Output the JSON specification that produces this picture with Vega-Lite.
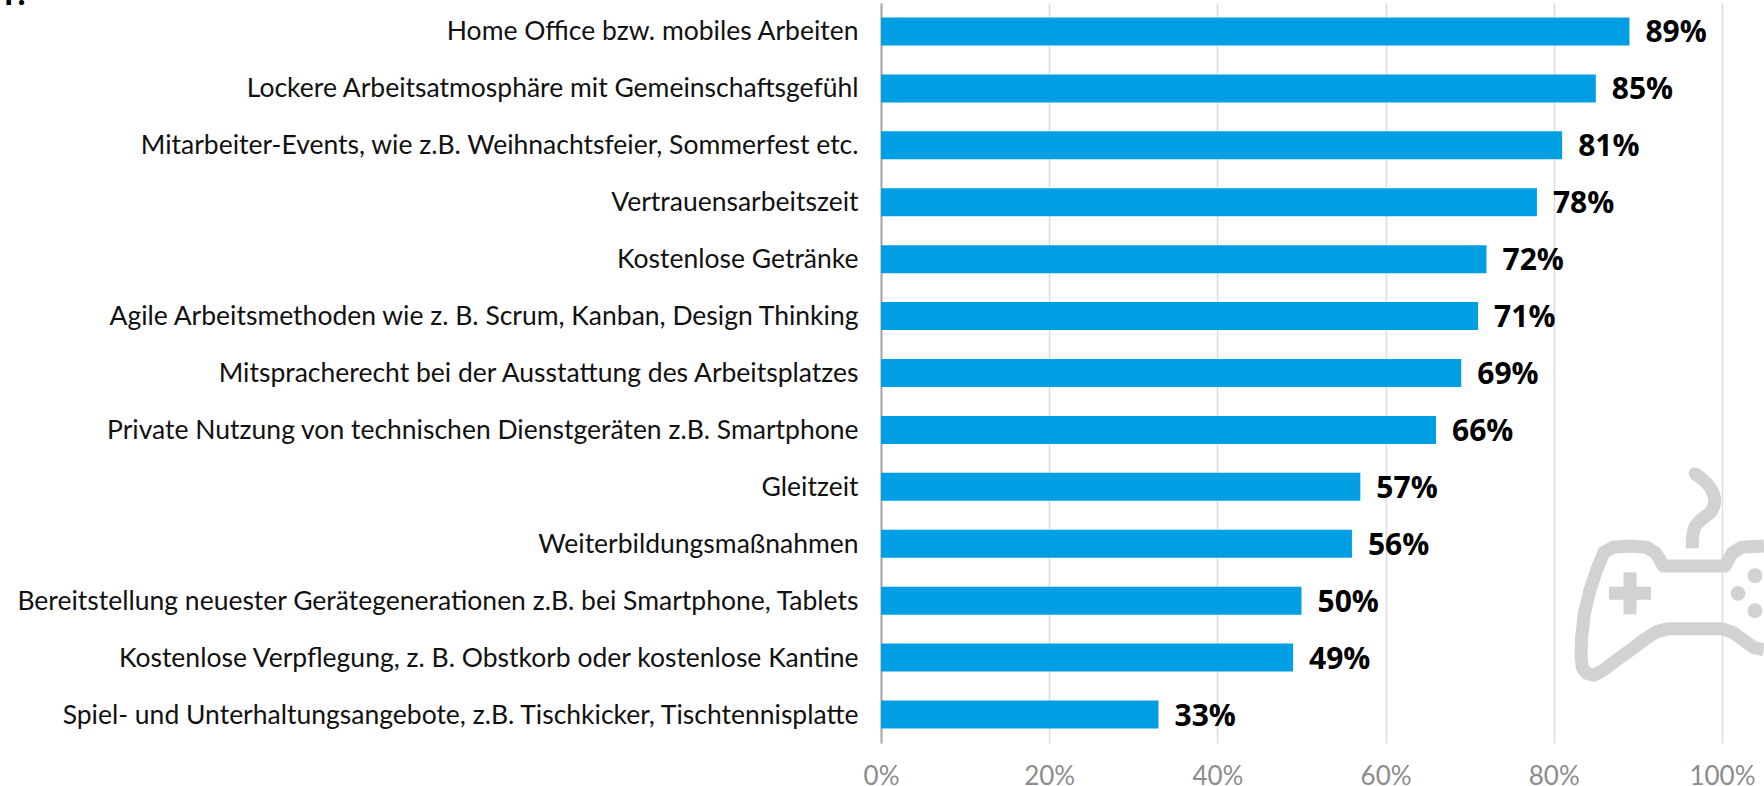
{
"$schema":"https://vega.github.io/schema/vega-lite/v6.json",
"width":883,"height":740,"autosize":"none","padding":{"left":881,"top":3,"right":0,"bottom":43},
"background":"white",
"config":{"view":{"stroke":null}},
"datasets":{
"bars":[
{"k":"Home Office bzw. mobiles Arbeiten","v":89,"l":"89%"},
{"k":"Lockere Arbeitsatmosphäre mit Gemeinschaftsgefühl","v":85,"l":"85%"},
{"k":"Mitarbeiter-Events, wie z.B. Weihnachtsfeier, Sommerfest etc.","v":81,"l":"81%"},
{"k":"Vertrauensarbeitszeit","v":78,"l":"78%"},
{"k":"Kostenlose Getränke","v":72,"l":"72%"},
{"k":"Agile Arbeitsmethoden wie z. B. Scrum, Kanban, Design Thinking","v":71,"l":"71%"},
{"k":"Mitspracherecht bei der Ausstattung des Arbeitsplatzes","v":69,"l":"69%"},
{"k":"Private Nutzung von technischen Dienstgeräten z.B. Smartphone","v":66,"l":"66%"},
{"k":"Gleitzeit","v":57,"l":"57%"},
{"k":"Weiterbildungsmaßnahmen","v":56,"l":"56%"},
{"k":"Bereitstellung neuester Gerätegenerationen z.B. bei Smartphone, Tablets","v":50,"l":"50%"},
{"k":"Kostenlose Verpflegung, z. B. Obstkorb oder kostenlose Kantine","v":49,"l":"49%"},
{"k":"Spiel- und Unterhaltungsangebote, z.B. Tischkicker, Tischtennisplatte","v":33,"l":"33%"}
],
"outline":[
{"p":"body","o":1,"x":1092,"y":630},{"p":"body","o":2,"x":1060,"y":622},{"p":"body","o":3,"x":1030,"y":600},{"p":"body","o":4,"x":1000,"y":578},{"p":"body","o":5,"x":965,"y":566},{"p":"body","o":6,"x":805,"y":566},{"p":"body","o":7,"x":770,"y":575},{"p":"body","o":8,"x":735,"y":597},{"p":"body","o":9,"x":700,"y":624},{"p":"body","o":10,"x":650,"y":660},{"p":"body","o":11,"x":605,"y":694},{"p":"body","o":12,"x":582,"y":706},{"p":"body","o":13,"x":560,"y":700},{"p":"body","o":14,"x":547,"y":682},{"p":"body","o":15,"x":543,"y":650},{"p":"body","o":16,"x":545,"y":590},{"p":"body","o":17,"x":553,"y":520},{"p":"body","o":18,"x":570,"y":450},{"p":"body","o":19,"x":590,"y":390},{"p":"body","o":20,"x":612,"y":337},{"p":"body","o":21,"x":640,"y":322},{"p":"body","o":22,"x":690,"y":318},{"p":"body","o":23,"x":740,"y":322},{"p":"body","o":24,"x":768,"y":340},{"p":"body","o":25,"x":790,"y":378},{"p":"body","o":26,"x":975,"y":378},{"p":"body","o":27,"x":996,"y":340},{"p":"body","o":28,"x":1024,"y":322},{"p":"body","o":29,"x":1092,"y":318}
],
"wire":[
{"o":1,"x":883,"y":100},{"o":2,"x":912,"y":122},{"o":3,"x":935,"y":150},{"o":4,"x":944,"y":185},{"o":5,"x":933,"y":215},{"o":6,"x":905,"y":238},{"o":7,"x":885,"y":260},{"o":8,"x":878,"y":290},{"o":9,"x":877,"y":325}
],
"plus":[
{"p":"h","o":1,"x":627,"y":460},{"p":"h","o":2,"x":753,"y":460},
{"p":"v","o":1,"x":690,"y":397},{"p":"v","o":2,"x":690,"y":523}
],
"dots":[{"x":1065,"y":407},{"x":1014,"y":460},{"x":1065,"y":512}],
"cap":[{"x":883,"y":100}],
"cut":[{"x":-4200,"y":-1305,"t":"T:"}]
},
"resolve":{"scale":{"x":"independent","y":"independent"}},
"layer":[
{"data":{"name":"bars"},
 "encoding":{
  "y":{"field":"k","type":"nominal","sort":null,"scale":{"paddingInner":0.508,"paddingOuter":0.254},
   "axis":{"title":null,"labelFont":"Lato","labelFontSize":26.5,"labelColor":"#111111","labelLimit":900,"ticks":false,"labelPadding":23,"labelOffset":1,"domainColor":"#a6a6a6","domainWidth":2,"grid":false}},
  "x":{"field":"v","type":"quantitative","scale":{"domain":[0,105]},
   "axis":{"title":null,"values":[0,20,40,60,80,100],"labelExpr":"datum.value+'%'","labelFont":"Lato","labelFontSize":26,"labelColor":"#8c8c8c","labelPadding":20,"labelFlush":false,"ticks":false,"domain":false,"grid":true,"gridColor":"#dcdcdc","gridWidth":1.5}}
 },
 "layer":[
  {"mark":{"type":"bar","color":"#009fe3"}},
  {"mark":{"type":"text","align":"left","baseline":"middle","dx":16,"dy":2,"font":"Open Sans","fontWeight":"bold","fontSize":30,"color":"#000000"},
   "encoding":{"text":{"field":"l"}}}
 ]
},
{
 "encoding":{
  "x":{"field":"x","type":"quantitative","scale":{"domain":[-1557,1092]},"axis":null},
  "y":{"field":"y","type":"quantitative","scale":{"domain":[909,-1311]},"axis":null}
 },
 "layer":[
  {"data":{"name":"outline"},"mark":{"type":"line","color":"#d2d2d2","strokeWidth":13,"strokeJoin":"round","strokeCap":"butt","clip":true},
   "encoding":{"detail":{"field":"p"},"order":{"field":"o"}}},
  {"data":{"name":"wire"},"mark":{"type":"line","color":"#d2d2d2","strokeWidth":13,"interpolate":"catmull-rom","strokeCap":"butt"},
   "encoding":{"order":{"field":"o"}}},
  {"data":{"name":"plus"},"mark":{"type":"line","color":"#d2d2d2","strokeWidth":13,"strokeCap":"butt"},
   "encoding":{"detail":{"field":"p"},"order":{"field":"o"}}},
  {"data":{"name":"dots"},"mark":{"type":"point","filled":true,"color":"#d2d2d2","opacity":1,"size":220,"shape":"circle"}},
  {"data":{"name":"cap"},"mark":{"type":"point","filled":true,"color":"#d2d2d2","opacity":1,"size":133,"shape":"circle"}},
  {"data":{"name":"cut"},"mark":{"type":"text","align":"left","baseline":"alphabetic","font":"Open Sans","fontWeight":"bold","fontSize":30,"color":"#000000"},
   "encoding":{"text":{"field":"t"}}}
 ]
}
]
}
